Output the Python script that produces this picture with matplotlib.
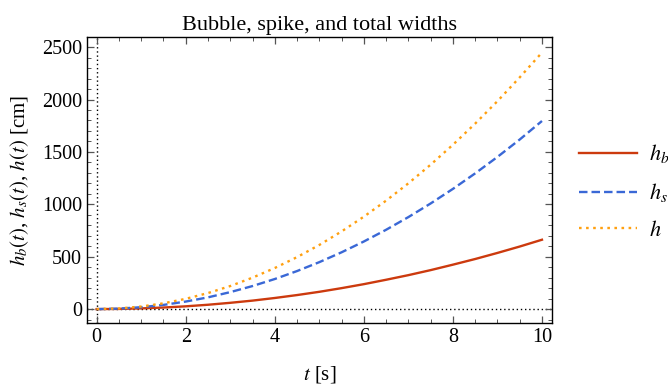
import matplotlib
matplotlib.use("Agg")
import matplotlib.pyplot as plt
from matplotlib.ticker import MultipleLocator

# values, t in s, widths in cm
t = [0, 0.5, 1, 1.5, 2, 2.5, 3, 3.5, 4, 4.5, 5, 5.5, 6, 6.5, 7, 7.5, 8, 8.5, 9, 9.5, 10]
h_b = [0, 1.7, 6.7, 15, 26.5, 41.5, 60, 81, 106, 134, 165, 200, 238, 280, 324, 372, 424, 478, 536, 597, 662]
h_s = [0, 4.5, 18, 40, 72, 112, 162, 220, 287, 363, 448, 542, 645, 757, 878, 1008, 1147, 1295, 1452, 1618, 1795]
h = [0, 6.1, 24.5, 55, 98, 153, 220, 300, 392, 496, 612, 741, 882, 1035, 1200, 1378, 1568, 1770, 1984, 2211, 2448]

plt.rcParams['font.family'] = ['Liberation Serif', 'DejaVu Serif']
plt.rcParams['mathtext.fontset'] = 'stix'

fig = plt.figure(figsize=(6.68, 3.87), dpi=100)
ax = fig.add_axes([0.130, 0.165, 0.696, 0.739])

# axes through the origin, as dotted lines
ax.axhline(0, color='black', lw=1.0, ls=(0, (1, 2)), zorder=1)
ax.axvline(0, color='black', lw=1.0, ls=(0, (1, 2)), zorder=1)

ax.plot(t, h_b, color='#CC3A0E', lw=1.7, label=r'$h_b$', zorder=3)
ax.plot(t, h_s, color='#3A68D6', lw=1.7, ls=(0, (3.6, 1.7)), label=r'$h_s$', zorder=3)
ax.plot(t, h, color='#FFA010', lw=1.7, ls=(0, (1.1, 1.9)), label=r'$h$', zorder=3)

ax.set_xlim(-0.22, 10.22)
ax.set_ylim(-134, 2595)
ax.xaxis.set_major_locator(MultipleLocator(2))
ax.xaxis.set_minor_locator(MultipleLocator(0.5))
ax.yaxis.set_major_locator(MultipleLocator(500))
ax.yaxis.set_minor_locator(MultipleLocator(100))
ax.tick_params(which='both', direction='in', top=True, right=True,
               color='#555555', labelsize=14.5)
ax.tick_params(which='major', length=5, width=0.9)
ax.tick_params(which='minor', length=3, width=0.7)
for s in ax.spines.values():
    s.set_linewidth(1.0)

ax.set_title('Bubble, spike, and total widths', fontsize=16, pad=5)
ax.set_xlabel(r'$t$ [s]', fontsize=15, labelpad=12)
ax.set_ylabel(r'$h_b(t)$, $h_s(t)$, $h(t)$ [cm]', fontsize=15, labelpad=8)

ax.legend(loc='center left', bbox_to_anchor=(1.058, 0.46), frameon=False,
          borderpad=0, borderaxespad=0,
          fontsize=16, handlelength=2.6, handletextpad=0.55, labelspacing=0.72)

fig.savefig('out.png', dpi=100)
